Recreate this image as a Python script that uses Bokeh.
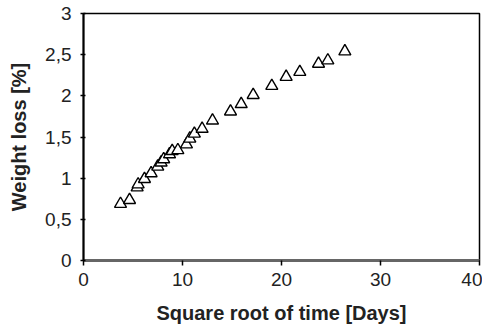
from bokeh.plotting import figure
from bokeh.models import FixedTicker, Range1d
from bokeh.embed import file_html
from bokeh.resources import INLINE

sqrt_time = [3.74, 4.65, 5.42, 5.52, 6.16, 6.83, 7.5, 7.84, 8.1, 8.69, 8.96, 9.53,
             10.4, 10.74, 11.2, 11.98, 13.03, 14.85, 15.93, 17.14, 19.02, 20.47,
             21.85, 23.74, 24.68, 26.4]
weight_loss = [0.687, 0.735, 0.888, 0.924, 0.99, 1.06, 1.14, 1.19, 1.23, 1.29, 1.33, 1.34,
               1.41, 1.48, 1.54, 1.6, 1.70, 1.81, 1.90, 2.01, 2.12, 2.23,
               2.29, 2.39, 2.43, 2.54]
x_ticks = [0, 10, 20, 30, 40]
y_ticks = [0, 0.5, 1, 1.5, 2, 2.5, 3]
y_tick_labels = ["0", "0,5", "1", "1,5", "2", "2,5", "3"]

p = figure(width=482, height=326, output_backend="svg", toolbar_location=None,
           x_range=Range1d(0, 40), y_range=Range1d(0, 3),
           min_border_left=83, min_border_right=3, min_border_top=13, min_border_bottom=64)
p.grid.visible = False
p.background_fill_color = "white"
p.border_fill_color = "white"
p.outline_line_color = "black"
p.outline_line_width = 1.5

p.scatter(sqrt_time, weight_loss, marker="triangle", size=12,
          fill_color="white", line_color="black", line_width=1.4)

font = "Liberation Sans"
p.xaxis.ticker = FixedTicker(ticks=x_ticks)
p.yaxis.ticker = FixedTicker(ticks=y_ticks)
p.yaxis.major_label_overrides = {t: l for t, l in zip(y_ticks, y_tick_labels)}
p.xaxis.axis_label = "Square root of time [Days]"
p.yaxis.axis_label = "Weight loss [%]"
for ax in (p.xaxis, p.yaxis):
    ax.axis_label_text_font = font
    ax.axis_label_text_font_style = "bold"
    ax.axis_label_text_font_size = "20px"
    ax.axis_label_text_color = "#222222"
    ax.major_label_text_font = font
    ax.major_label_text_font_size = "19px"
    ax.major_label_text_color = "#222222"
    ax.minor_tick_line_color = None
    ax.major_tick_line_color = "black"
    ax.major_tick_line_width = 1.5

p.xaxis.axis_line_color = "#666666"
p.xaxis.axis_line_width = 3
p.xaxis.major_tick_in = 0
p.xaxis.major_tick_out = 5
p.xaxis.major_label_standoff = 7
p.xaxis.axis_label_standoff = 13

p.yaxis.axis_line_color = "black"
p.yaxis.axis_line_width = 2
p.yaxis.major_tick_in = 2
p.yaxis.major_tick_out = 3
p.yaxis.major_label_standoff = 9
p.yaxis.axis_label_standoff = 12

open("out.html", "w").write(file_html(p, INLINE))
